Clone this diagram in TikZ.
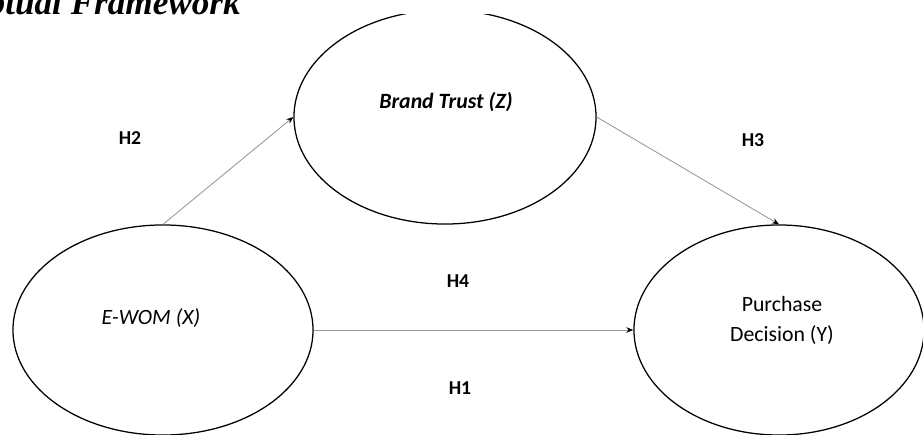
\documentclass[tikz,border=0pt]{standalone}
\usepackage{fontspec}
\setmainfont{Carlito}
\newfontfamily\titlefont{Liberation Serif}
\usepackage{tikz}
\usetikzlibrary{shapes.geometric, arrows.meta}
\definecolor{linkgray}{RGB}{150, 150, 150}
\tikzset{
  construct/.style={draw, ellipse, line width=0.9pt, inner sep=0pt},
  link/.style={draw=linkgray, line width=0.6pt, -{Stealth[length=5pt, width=4pt, black]}},
  hyp/.style={font=\bfseries\fontsize{14}{16}\selectfont}
}

\begin{document}
\begin{tikzpicture}[x=0.025cm, y=-0.025cm]
  \useasboundingbox (0, 0) rectangle (923, 435);
  \clip (0, 0) rectangle (923, 435);

  \node[anchor=base east, inner sep=0pt,
        font=\titlefont\bfseries\itshape\fontsize{25}{30}\selectfont] (title) at (241, 14) {ptual Framework};

  \begin{scope}
    \clip (0, 14) rectangle (923, 435);
    \node[construct, minimum width=7.55cm, minimum height=5.35cm] (trust) at (445, 117) {};
  \end{scope}
  \node[construct, minimum width=7.5cm, minimum height=5.25cm] (ewom) at (163, 330) {};
  \node[construct, minimum width=7.25cm, minimum height=5.25cm] (buy) at (779, 330) {};

  \node[font=\bfseries\itshape\fontsize{15.5}{18}\selectfont] (trusttext) at (446, 102) {Brand Trust (Z)};
  \node[font=\itshape\fontsize{15.5}{18}\selectfont] (ewomtext) at (151, 318) {E-WOM (X)};
  \node[align=center, font=\fontsize{15.5}{21.3}\selectfont] (buytext) at (782, 320) {Purchase\\Decision (Y)};

  \draw[link] (ewom.north) -- (trust.west);
  \draw[link] (trust.east) -- (buy.north);
  \draw[link] (ewom.east) -- (buy.west);

  \node[hyp] (h2) at (130, 138) {H2};
  \node[hyp] (h3) at (753, 140) {H3};
  \node[hyp] (h4) at (458, 281) {H4};
  \node[hyp] (h1) at (460, 388) {H1};
\end{tikzpicture}
\end{document}
